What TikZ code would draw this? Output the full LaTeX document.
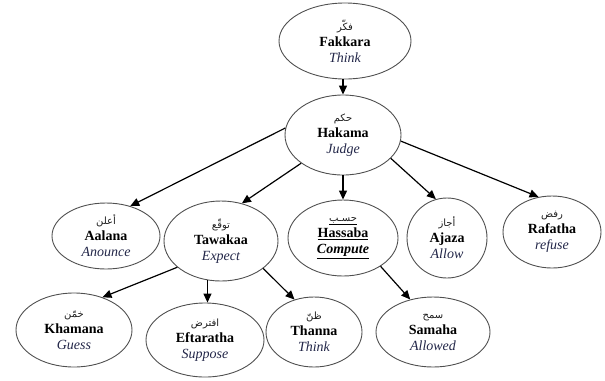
\documentclass[tikz,border=0pt]{standalone}
\usepackage{fontspec}
\setmainfont{Liberation Serif}
\newfontfamily\arabicfont[Script=Arabic]{DejaVu Sans}
\TeXXeTstate=1
\usetikzlibrary{shapes.geometric,arrows.meta}

\definecolor{rimgray}{RGB}{80,80,80}
\definecolor{glossblue}{RGB}{34,38,72}
\definecolor{arink}{RGB}{30,30,30}

% one line of Arabic, right to left
\newcommand{\arw}[1]{{\arabicfont\fontsize{10bp}{16bp}\selectfont\color{arink}\beginR #1\endR}}
% English gloss in italics
\newcommand{\gloss}[1]{{\itshape\color{glossblue}#1}}

\tikzset{
  verb/.style={ellipse, draw=rimgray, line width=0.9bp, inner sep=0pt,
    align=center, font=\fontsize{14bp}{16bp}\selectfont},
  link/.style={line width=1.2bp, -{Triangle[length=9bp,width=8bp]}}
}

\begin{document}
\begin{tikzpicture}[x=1bp,y=-1bp]
\useasboundingbox (0,0) rectangle (605,380);

% top of the tree
\node[verb, minimum width=132bp, minimum height=76bp] (fakkara) at (345,41)
  {\arw{فكّر}\\\textbf{Fakkara}\\\gloss{Think}};
\node[verb, minimum width=116bp, minimum height=80bp] (hakama) at (343,135)
  {\arw{حكم}\\\textbf{Hakama}\\\gloss{Judge}};

% second level
\node[verb, minimum width=108bp, minimum height=66bp] (aalana) at (106,236)
  {\arw{أعلن}\\\textbf{Aalana}\\\gloss{Anounce}};
\node[verb, minimum width=114bp, minimum height=80bp] (tawakaa) at (221,241)
  {\arw{توقّع}\\\textbf{Tawakaa}\\\gloss{Expect}};
\node[verb, minimum width=110bp, minimum height=76bp] (hassaba) at (343,238)
  {\underline{\arw{حسـب}}\\\underline{\textbf{Hassaba}}\\\underline{\textbf{\textit{Compute}}}};
\node[verb, minimum width=80bp, minimum height=80bp] (ajaza) at (447,238)
  {\arw{أجاز}\\\textbf{Ajaza}\\\gloss{Allow}};
\node[verb, minimum width=98bp, minimum height=72bp] (rafatha) at (552,232)
  {\arw{رفض}\\\textbf{Rafatha}\\\gloss{refuse}};

% third level
\node[verb, minimum width=116bp, minimum height=74bp] (khamana) at (74,330)
  {\arw{خمّن}\\\textbf{Khamana}\\\gloss{Guess}};
\node[verb, minimum width=118bp, minimum height=74bp] (eftaratha) at (205,340)
  {\arw{افترض}\\\textbf{Eftaratha}\\\gloss{Suppose}};
\node[verb, minimum width=96bp, minimum height=70bp] (thanna) at (314,332)
  {\arw{ظنّ}\\\textbf{Thanna}\\\gloss{Think}};
\node[verb, minimum width=114bp, minimum height=70bp] (samaha) at (433,332)
  {\arw{سمح}\\\textbf{Samaha}\\\gloss{Allowed}};

% connectors
\draw[link] (fakkara.south -| hakama.north) -- (hakama.north);
\draw[link] (hakama.173) -- (aalana.51);
\draw[link] (hakama.214) -- (tawakaa.61);
\draw[link] (hakama.south) -- (hassaba.north);
\draw[link] (hakama.-26) -- (ajaza.106);
\draw[link] (hakama.-6) -- (rafatha.111);
\draw[link] (tawakaa.211) -- (khamana.49);
\draw[link] (tawakaa.251) -- (tawakaa.251 |- eftaratha.north);
\draw[link] (tawakaa.-33) -- (thanna.121);
\draw[link] (hassaba.-37) -- (samaha.125);
\end{tikzpicture}
\end{document}
